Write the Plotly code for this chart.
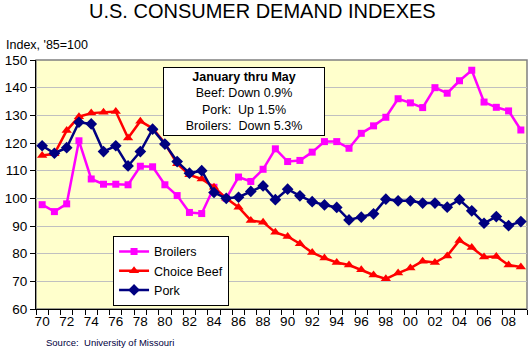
import plotly.graph_objects as go

years = list(range(1970, 2010))
tick_years = list(range(1970, 2010, 2))
tick_labels = [str(y)[2:] for y in tick_years]

broilers = [97.7, 95.2, 98.0, 120.8, 107.0, 105.1, 105.1, 104.9, 111.6, 111.4,
            104.9, 101.0, 94.9, 94.5, 104.0, 100.0, 107.7, 106.1, 110.5, 117.9,
            113.3, 113.7, 116.7, 120.5, 120.5, 118.1, 123.5, 126.2, 129.3, 136.0,
            134.5, 132.8, 140.0, 138.0, 142.5, 146.3, 134.8, 132.9, 131.6, 124.7]

beef = [115.5, 116.1, 124.5, 129.5, 130.8, 131.1, 131.4, 121.8, 127.9, 125.3,
        119.9, 112.5, 108.5, 107.0, 104.0, 100.0, 96.8, 92.0, 91.4, 87.7,
        86.2, 83.6, 80.4, 78.4, 76.8, 75.9, 74.2, 72.3, 70.9, 73.0,
        74.8, 77.3, 76.8, 79.2, 84.8, 82.2, 78.8, 79.0, 75.9, 75.2]

pork = [119.0, 116.3, 118.3, 127.5, 126.9, 116.9, 119.0, 111.7, 116.9, 125.0,
        119.6, 113.3, 109.1, 110.0, 102.1, 100.0, 100.4, 102.5, 104.5, 99.5,
        103.3, 100.9, 98.8, 97.6, 96.7, 92.2, 93.2, 94.4, 99.7, 99.1,
        99.1, 98.3, 98.3, 96.8, 99.5, 95.5, 91.0, 93.4, 90.1, 91.6]

FONT = "Liberation Sans, Arial, sans-serif"

fig = go.Figure()
fig.add_trace(go.Scatter(x=years, y=broilers, name="Broilers", mode="lines+markers",
                         line=dict(color="#FF00FF", width=2.5),
                         marker=dict(symbol="square", size=7, color="#FF00FF")))
fig.add_trace(go.Scatter(x=years, y=beef, name="Choice Beef", mode="lines+markers",
                         line=dict(color="#FF0000", width=2.5),
                         marker=dict(symbol="triangle-up", size=9, color="#FF0000")))
fig.add_trace(go.Scatter(x=years, y=pork, name="Pork", mode="lines+markers",
                         line=dict(color="#000080", width=2.5),
                         marker=dict(symbol="diamond", size=9, color="#000080")))

L, R, T, B = 36, 5.3, 60, 40.7
W, H = 532, 350
pw = W - L - R
ph = H - T - B

def px(x):
    return (x - L) / pw

def py(y):
    return (H - B - y) / ph

fig.update_layout(
    width=W, height=H,
    margin=dict(l=L, r=R, t=T, b=B),
    paper_bgcolor="white",
    plot_bgcolor="#FFFFCC",
    font=dict(family=FONT, color="black"),
    showlegend=True,
    legend=dict(x=px(113), y=py(236), xanchor="left", yanchor="top",
                bgcolor="white", bordercolor="black", borderwidth=1,
                font=dict(size=12.5, family=FONT), tracegroupgap=0),
    xaxis=dict(range=[1969.5, 2009.5], tickmode="array", tickvals=tick_years,
               ticktext=tick_labels, ticks="", showgrid=False,
               showline=True, linecolor="black", linewidth=1,
               tickfont=dict(size=13.5, family=FONT, color="black"),
               zeroline=False,
               minor=dict(tickmode="linear", tick0=1969.5, dtick=1, ticks="outside",
                          ticklen=5, tickcolor="black", showgrid=False)),
    yaxis=dict(range=[60, 150], dtick=10, ticks="outside", ticklen=5, tickcolor="black",
               showgrid=True, gridcolor="#C0C0C0", gridwidth=1,
               showline=True, linecolor="black", linewidth=1, zeroline=False,
               tickfont=dict(size=13.5, family=FONT, color="black")),
)

fig.add_shape(type="rect", xref="paper", yref="paper", x0=0, y0=0, x1=1, y1=1,
              line=dict(color="#808080", width=1.5), layer="below")

fig.add_annotation(text="U.S. CONSUMER DEMAND INDEXES", xref="paper", yref="paper",
                   x=px(262.5), y=py(11), xanchor="center", yanchor="middle",
                   showarrow=False, font=dict(size=20, family=FONT, color="black"))
fig.add_annotation(text="Index, '85=100", xref="paper", yref="paper",
                   x=px(4), y=py(45), xanchor="left", yanchor="middle",
                   showarrow=False, font=dict(size=12.5, family=FONT, color="black"))
fig.add_annotation(text="Source:\u00a0\u00a0University of Missouri", xref="paper", yref="paper",
                   x=px(44), y=py(342.5), xanchor="left", yanchor="middle",
                   showarrow=False, font=dict(size=9.5, family=FONT, color="#000040"))
fig.add_annotation(text="<b>January thru May</b><br>Beef: Down 0.9%<br>Pork:\u00a0\u00a0Up 1.5%<br>Broilers:\u00a0\u00a0Down 5.3%",
                   xref="paper", yref="paper", x=px(244.3), y=py(101.5),
                   xanchor="center", yanchor="middle", align="center",
                   showarrow=False, bgcolor="white", bordercolor="black", borderwidth=1,
                   width=158, height=65,
                   font=dict(size=12.5, family=FONT, color="black"))

fig.write_html("out.html")
